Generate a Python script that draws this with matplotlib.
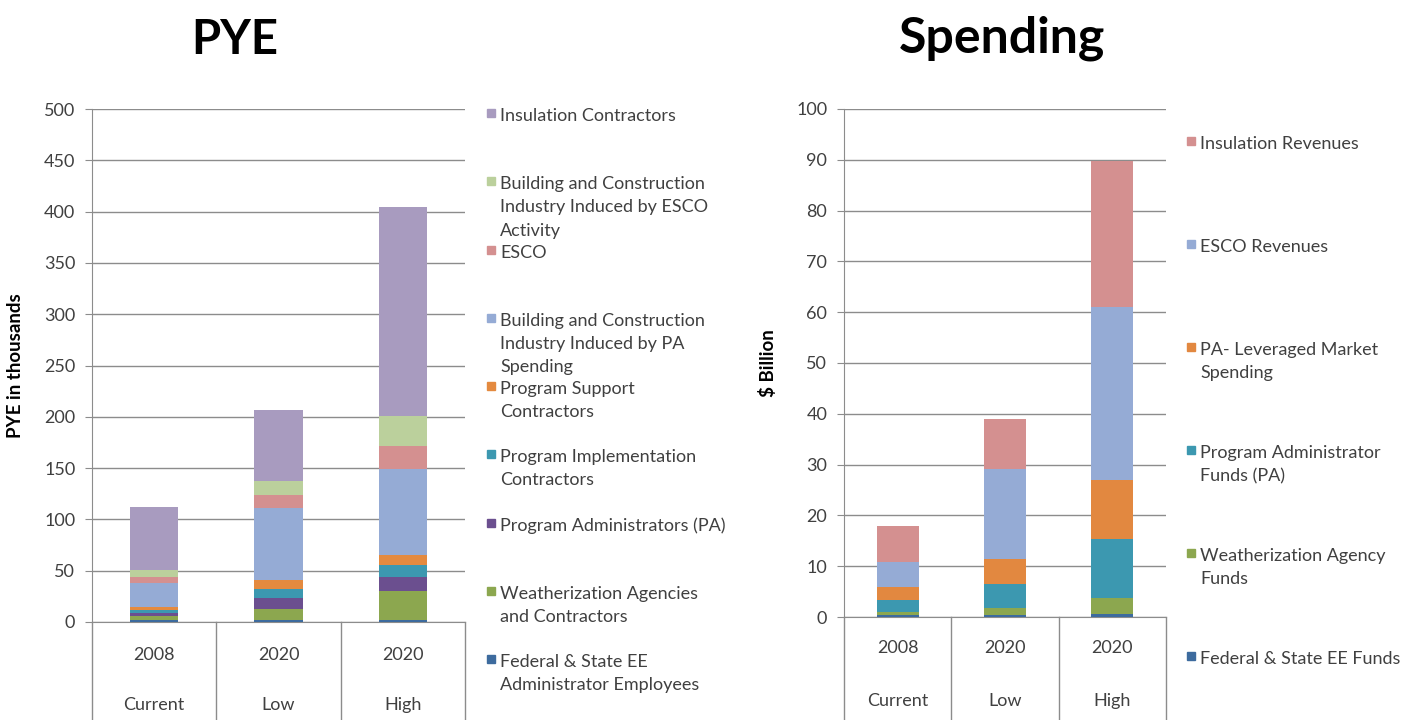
import matplotlib
matplotlib.use('Agg')
import matplotlib.pyplot as plt
import matplotlib.transforms as mtransforms
from matplotlib.patches import Rectangle

plt.rcParams['font.family'] = ['Lato', 'DejaVu Sans']

# Categories
years = ['2008', '2020', '2020']
scenarios = ['Current', 'Low', 'High']

# PYE in thousands (bottom -> top of stack)
pye_labels = ['Federal & State EE\nAdministrator Employees',
              'Weatherization Agencies\nand Contractors',
              'Program Administrators (PA)',
              'Program Implementation\nContractors',
              'Program Support\nContractors',
              'Building and Construction\nIndustry Induced by PA\nSpending',
              'ESCO',
              'Building and Construction\nIndustry Induced by ESCO\nActivity',
              'Insulation Contractors']
fed_state_emp = [2.4, 1.8, 2.0]
weatherization = [3.3, 10.4, 28.2]
prog_admin = [3.2, 10.8, 13.3]
prog_impl = [3.0, 9.3, 12.0]
prog_support = [2.5, 8.4, 10.1]
bldg_pa = [23.8, 70.6, 83.2]
esco = [5.5, 12.7, 22.7]
bldg_esco = [6.5, 13.5, 29.5]
insulation = [62.0, 69.5, 203.0]
pye_series = [fed_state_emp, weatherization, prog_admin, prog_impl, prog_support,
              bldg_pa, esco, bldg_esco, insulation]
pye_colors = ['#3D6B9E', '#8CA74F', '#6B4F8F', '#3C98B0', '#E48A3F',
              '#95ABD5', '#D49090', '#BBD09C', '#A89BBF']

# Spending in $ billion (bottom -> top of stack)
spend_labels = ['Federal & State EE Funds',
                'Weatherization Agency\nFunds',
                'Program Administrator\nFunds (PA)',
                'PA- Leveraged Market\nSpending',
                'ESCO Revenues',
                'Insulation Revenues']
fed_state_funds = [0.3, 0.3, 0.5]
weather_funds = [0.7, 1.4, 3.2]
pa_funds = [2.3, 4.8, 11.6]
leveraged = [2.6, 5.0, 11.7]
esco_rev = [4.9, 17.7, 34.0]
insulation_rev = [7.2, 9.8, 28.7]
spend_series = [fed_state_funds, weather_funds, pa_funds, leveraged, esco_rev, insulation_rev]
spend_colors = ['#3D6B9E', '#8CA74F', '#3C98B0', '#E28840', '#95ABD5', '#D49090']

W, H = 1402, 720
fig = plt.figure(figsize=(W / 100, H / 100), dpi=100)
fig.patch.set_facecolor('white')

grid_col = '#8C8C8C'
txt_col = '#404040'
fs = 13


def fx(px):
    return px / W


def fy(py):
    return 1 - py / H


def draw_chart(ax, series, colors, ymax, step, ylabel, year_y, scen_y, line_bottom):
    x = range(len(years))
    bottom = [0] * len(years)
    for vals, c in zip(series, colors):
        ax.bar(x, vals, width=0.39, bottom=bottom, color=c, zorder=3)
        bottom = [b + v for b, v in zip(bottom, vals)]
    ax.set_xlim(-0.5, len(years) - 0.5)
    ax.set_ylim(0, ymax)
    ax.set_yticks(range(0, ymax + 1, step))
    ax.yaxis.grid(True, color=grid_col, lw=1)
    ax.set_axisbelow(True)
    for s in ['top', 'right']:
        ax.spines[s].set_visible(False)
    ax.spines['left'].set_color(grid_col)
    ax.spines['bottom'].set_color(grid_col)
    ax.tick_params(axis='y', length=5, color=grid_col, labelsize=fs, labelcolor=txt_col, pad=7)
    ax.set_xticks([])
    ax.set_ylabel(ylabel, fontsize=13.5, fontweight='bold', color='black')
    trans = mtransforms.blended_transform_factory(ax.transData, ax.transAxes)
    for i in range(len(years)):
        ax.text(i, year_y, years[i], transform=trans, ha='center', va='center',
                fontsize=fs, color=txt_col)
        ax.text(i, scen_y, scenarios[i], transform=trans, ha='center', va='center',
                fontsize=fs, color=txt_col)
    for b in [i - 0.5 for i in range(len(years) + 1)]:
        ax.plot([b, b], [0, line_bottom], transform=trans, color=grid_col, lw=1, clip_on=False)


def draw_legend(labels, colors, x_marker, y_first, y_step):
    # entries listed from top of stack to bottom
    for k, (lab, c) in enumerate(zip(labels[::-1], colors[::-1])):
        yc = y_first + k * y_step
        fig.patches.append(Rectangle((fx(x_marker - 4), fy(yc + 4)), fx(8), 8 / H,
                                     transform=fig.transFigure, color=c))
        fig.text(fx(x_marker + 9), fy(yc - 5), lab, ha='left', va='top',
                 fontsize=fs, color=txt_col, linespacing=1.55)


# PYE chart
ax1 = fig.add_axes([fx(92), fy(622), fx(465 - 92), (622 - 109) / H])
draw_chart(ax1, pye_series, pye_colors, 500, 50, 'PYE in thousands',
           -0.064, -0.162, -0.2)
ax1.yaxis.set_label_coords(-0.182, 0.5)
fig.text(fx(235), fy(40), 'PYE', ha='center', va='center', fontsize=34, fontweight='bold')
draw_legend(pye_labels, pye_colors, 491, 113, 68.25)

# Spending chart
ax2 = fig.add_axes([fx(844), fy(617), fx(1166 - 844), (617 - 109) / H])
draw_chart(ax2, spend_series, spend_colors, 100, 10, '$ Billion',
           -0.061, -0.165, -0.21)
ax2.yaxis.set_label_coords(-0.208, 0.5)
fig.text(fx(1002), fy(38), 'Spending', ha='center', va='center', fontsize=36, fontweight='bold')
draw_legend(spend_labels, spend_colors, 1191, 141, 103)

fig.savefig('out.png', dpi=100, facecolor='white')
